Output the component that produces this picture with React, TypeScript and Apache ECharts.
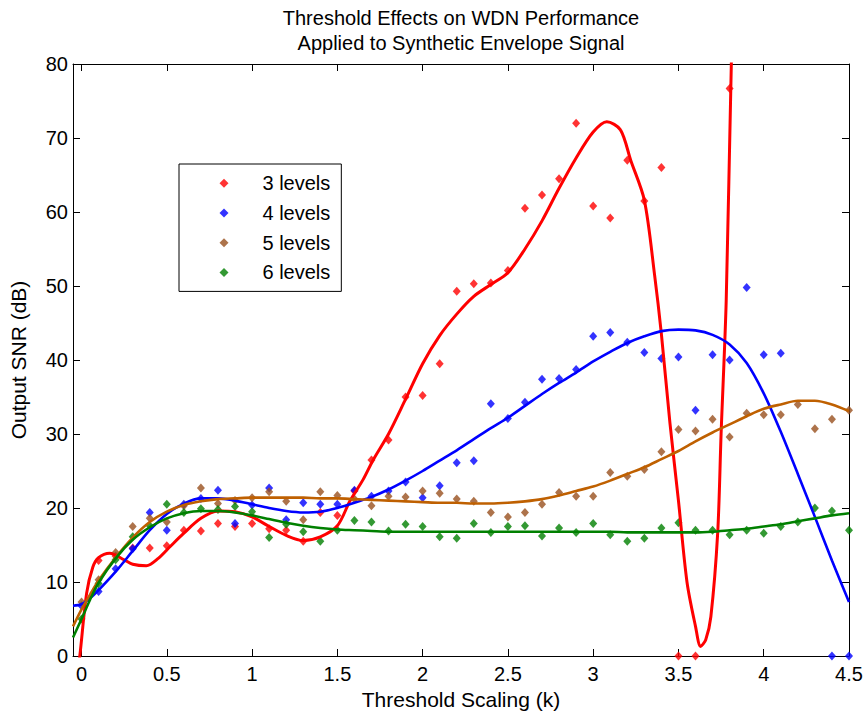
import React, { useEffect, useRef } from 'react';
import * as echarts from 'echarts';

const FONT = "'Liberation Sans', Arial, sans-serif";

const seriesNames = ['3 levels', '4 levels', '5 levels', '6 levels'];
const markerColors = ['#ff0000', '#0000ff', '#99501e', '#008000'];
const lineColors = ['#ff0000', '#0000ff', '#bf6000', '#008000'];

const xTickValues = [0, 0.5, 1, 1.5, 2, 2.5, 3, 3.5, 4, 4.5];

// sample thresholds (k)
const kValues = [
  0, 0.1, 0.2, 0.3, 0.4, 0.5, 0.6, 0.7, 0.8, 0.9,
  1.0, 1.1, 1.2, 1.3, 1.4, 1.5, 1.6, 1.7, 1.8, 1.9,
  2.0, 2.1, 2.2, 2.3, 2.4, 2.5, 2.6, 2.7, 2.8, 2.9,
  3.0, 3.1, 3.2, 3.3, 3.4, 3.5, 3.6, 3.7, 3.8, 3.9,
  4.0, 4.1, 4.2, 4.3, 4.4, 4.5,
];

// measured output SNR (dB)
const snr3 = [
  null, 12.9, 13.5, 14.6, 14.6, 14.9, 17.0, 16.9, 17.9, 17.5,
  17.9, 17.2, 17.0, 15.5, 19.4, 19.0, 22.3, 26.5, 29.2, 35.0,
  35.2, 39.5, 49.3, 50.3, 50.4, 52.1, 60.5, 62.3, 64.5, 72.0,
  60.8, 59.2, 67.0, 61.5, 66.0, 0, 0, null, 76.7, null,
  null, null, null, null, null, null,
];
const snr4 = [
  6.8, 8.7, 11.8, 14.5, 19.4, 17.0, 20.5, 21.3, 22.4, 17.9,
  20.4, 22.7, 18.4, 20.7, 20.5, 20.5, 22.4, 21.6, 22.3, 23.5,
  21.4, 23.0, 26.1, 26.4, 34.1, 32.1, 34.3, 37.4, 37.5, 38.7,
  43.2, 43.7, 42.4, 41.0, 40.2, 40.4, 33.2, 40.7, 40.0, 49.8,
  40.7, 40.9, null, null, 0, 0,
];
const snr5 = [
  7.3, 10.3, 14.0, 17.5, 18.6, 18.1, 20.3, 22.7, 20.6, 21.0,
  21.4, 22.2, 20.9, 18.4, 22.2, 21.7, 21.2, 20.3, 21.6, 21.5,
  22.3, 22.0, 21.2, 20.9, 19.4, 18.8, 19.4, 20.5, 22.1, 21.6,
  21.6, 24.8, 24.3, 25.2, 27.6, 30.6, 30.4, 32.0, 29.6, 32.8,
  32.6, 32.6, 34.0, 30.7, 32.0, 33.2,
];
const snr6 = [
  5.0, 9.8, 13.0, 16.1, 17.6, 20.5, 19.4, 19.9, 19.8, 20.2,
  19.5, 16.0, 17.8, 16.8, 15.5, 17.0, 18.3, 18.1, 16.9, 17.8,
  17.5, 16.1, 15.9, 17.9, 16.7, 17.5, 17.6, 16.2, 17.3, 16.7,
  17.9, 16.4, 15.5, 15.9, 17.3, 18.0, 17.0, 17.0, 16.4, 17.0,
  16.6, 17.5, 18.1, 20.0, 19.6, 17.0,
];

// fitted curves
const fitK3 = [
  -0.02, -0.01, 0.03, 0.066, 0.1, 0.165, 0.25, 0.3, 0.38, 0.45, 0.52,
  0.6, 0.7, 0.8, 0.9, 1.0, 1.1, 1.2, 1.3, 1.4, 1.5, 1.575, 1.65, 1.71,
  1.8, 1.9, 2.0, 2.1, 2.2, 2.3, 2.4, 2.5, 2.6, 2.7, 2.8, 2.9, 3.0,
  3.08, 3.16, 3.22, 3.3, 3.36, 3.4, 3.45, 3.5, 3.55, 3.6, 3.63, 3.66,
  3.69, 3.73, 3.75, 3.78, 3.81, 3.83,
];
const fit3 = [
  -1.5, 0, 8.5, 12.0, 13.3, 13.9, 13.0, 12.4, 12.2, 13.2, 14.8,
  16.6, 18.6, 19.6, 19.5, 18.8, 17.5, 16.3, 15.6, 16.1, 17.6, 21.0, 23.8, 26.5,
  30.0, 34.7, 39.5, 43.3, 46.2, 48.6, 50.2, 51.8, 55.0, 58.8, 63.2, 67.3, 70.8,
  72.2, 71.1, 67.0, 61.6, 51.5, 43.5, 31.5, 21.0, 10.0, 4.0, 1.3, 2.2,
  5.3, 16.6, 30.0, 48.0, 80.0, 95.0,
];
const fitK = [
  -0.05, 0, 0.05, 0.1, 0.2, 0.3, 0.4, 0.5, 0.6, 0.7, 0.8, 0.9,
  1.0, 1.1, 1.2, 1.3, 1.4, 1.5, 1.6, 1.7, 1.8, 1.9,
  2.0, 2.1, 2.2, 2.3, 2.4, 2.5, 2.6, 2.7, 2.8, 2.9,
  3.0, 3.1, 3.2, 3.3, 3.4, 3.5, 3.6, 3.7, 3.8, 3.9,
  4.0, 4.1, 4.2, 4.3, 4.4, 4.5,
];
const fit4 = [
  6.8, 7.0, 7.8, 8.9, 11.4, 14.2, 17.0, 19.2, 20.6, 21.3, 21.3, 21.0,
  20.5, 20.0, 19.6, 19.4, 19.5, 20.0, 20.7, 21.5, 22.5, 23.7,
  25.0, 26.4, 27.8, 29.3, 30.8, 32.2, 33.8, 35.4, 36.9, 38.3,
  39.8, 41.1, 42.3, 43.2, 43.9, 44.1, 44.0, 43.4, 42.1, 39.6,
  35.5, 30.3, 24.6, 18.8, 12.9, 7.3,
];
const fit5 = [
  4.0, 6.3, 8.3, 10.2, 13.3, 16.0, 18.1, 19.5, 20.4, 20.9, 21.2, 21.3,
  21.4, 21.4, 21.4, 21.4, 21.3, 21.3, 21.2, 21.1, 21.0, 20.9,
  20.8, 20.7, 20.7, 20.6, 20.6, 20.7, 20.9, 21.2, 21.7, 22.3,
  22.9, 23.7, 24.6, 25.5, 26.6, 27.7, 29.0, 30.2, 31.3, 32.4,
  33.4, 34.0, 34.5, 34.5, 34.0, 33.1,
];
const fit6 = [
  2.5, 5.0, 7.6, 9.9, 13.2, 15.7, 17.4, 18.6, 19.3, 19.6, 19.6, 19.4,
  19.0, 18.5, 18.0, 17.6, 17.3, 17.1, 17.0, 16.9, 16.8, 16.8,
  16.8, 16.8, 16.8, 16.8, 16.8, 16.8, 16.8, 16.8, 16.8, 16.8,
  16.8, 16.8, 16.7, 16.7, 16.7, 16.7, 16.7, 16.8, 17.0, 17.2,
  17.5, 17.8, 18.2, 18.6, 19.0, 19.3,
];

const pointSets = [snr3, snr4, snr5, snr6];
const fitSets: [number[], number[]][] = [
  [fitK3, fit3],
  [fitK, fit4],
  [fitK, fit5],
  [fitK, fit6],
];

export default function App() {
  const ref = useRef<HTMLDivElement>(null);

  useEffect(() => {
    document.body.style.margin = '0';
    const chart = echarts.init(ref.current!, null, { renderer: 'svg' });

    const scatterSeries = pointSets.map((vals, i) => ({
      name: seriesNames[i],
      type: 'scatter',
      symbol: 'diamond',
      symbolSize: [8, 9],
      clip: false,
      itemStyle: { color: markerColors[i] },
      data: kValues
        .map((k, j) => [k, vals[j]])
        .filter((d) => d[1] !== null),
      z: 2,
    }));

    const lineSeries = fitSets.map(([xs, ys], i) => ({
      name: seriesNames[i] + ' fit',
      type: 'line',
      showSymbol: false,
      symbol: 'none',
      smooth: 0.3,
      clip: true,
      lineStyle: { color: lineColors[i], width: i === 0 ? 3 : 2.6 },
      itemStyle: { color: lineColors[i] },
      data: xs.map((x, j) => [x, ys[j]]),
      z: 3,
    }));

    const tickStyle = { color: '#000', width: 1 };

    chart.setOption({
      animation: false,
      backgroundColor: '#fff',
      textStyle: { fontFamily: FONT },
      grid: { left: 73, right: 19, top: 64, bottom: 60, containLabel: false },
      graphic: [
        {
          type: 'text',
          x: 461,
          y: 18,
          style: {
            text: 'Threshold Effects on WDN Performance',
            fontSize: 20,
            fontFamily: FONT,
            fill: '#000',
            align: 'center',
            verticalAlign: 'middle',
          },
        },
        {
          type: 'text',
          x: 461,
          y: 43,
          style: {
            text: 'Applied to Synthetic Envelope Signal',
            fontSize: 20,
            fontFamily: FONT,
            fill: '#000',
            align: 'center',
            verticalAlign: 'middle',
          },
        },
      ],
      legend: {
        data: seriesNames.map((n) => ({ name: n, icon: 'diamond' })),
        orient: 'vertical',
        left: 179,
        top: 164,
        itemWidth: 9,
        itemHeight: 9,
        itemGap: 9.7,
        padding: [9.3, 11, 9, 40.5],
        borderColor: '#000',
        borderWidth: 1,
        backgroundColor: '#fff',
        selectedMode: false,
        textStyle: {
          fontSize: 20,
          fontFamily: FONT,
          color: '#000',
          lineHeight: 20,
          padding: [0, 0, 0, 29],
        },
      },
      xAxis: [
        {
          type: 'value',
          min: -0.05,
          max: 4.5,
          position: 'bottom',
          name: 'Threshold Scaling (k)',
          nameLocation: 'middle',
          nameGap: 32,
          nameTextStyle: { fontSize: 21, fontFamily: FONT, color: '#000' },
          axisLine: { show: true, onZero: false, lineStyle: tickStyle },
          axisTick: { show: true, inside: true, length: 7, customValues: xTickValues, lineStyle: tickStyle },
          axisLabel: { customValues: xTickValues, fontSize: 20, fontFamily: FONT, color: '#000', margin: 8 },
          splitLine: { show: false },
        },
        {
          type: 'value',
          min: -0.05,
          max: 4.5,
          position: 'top',
          axisLine: { show: true, onZero: false, lineStyle: tickStyle },
          axisTick: { show: true, inside: true, length: 7, customValues: xTickValues, lineStyle: tickStyle },
          axisLabel: { show: false },
          splitLine: { show: false },
        },
      ],
      yAxis: [
        {
          type: 'value',
          min: 0,
          max: 80,
          interval: 10,
          position: 'left',
          name: 'Output SNR (dB)',
          nameLocation: 'middle',
          nameGap: 44,
          nameTextStyle: { fontSize: 21, fontFamily: FONT, color: '#000' },
          axisLine: { show: true, onZero: false, lineStyle: tickStyle },
          axisTick: { show: true, inside: true, length: 7, lineStyle: tickStyle },
          axisLabel: { fontSize: 20, fontFamily: FONT, color: '#000', margin: 5 },
          splitLine: { show: false },
        },
        {
          type: 'value',
          min: 0,
          max: 80,
          interval: 10,
          position: 'right',
          axisLine: { show: true, onZero: false, lineStyle: tickStyle },
          axisTick: { show: true, inside: true, length: 7, lineStyle: tickStyle },
          axisLabel: { show: false },
          splitLine: { show: false },
        },
      ],
      series: [...scatterSeries, ...lineSeries],
    });

    return () => chart.dispose();
  }, []);

  return <div ref={ref} style={{ width: 868, height: 716 }} />;
}
